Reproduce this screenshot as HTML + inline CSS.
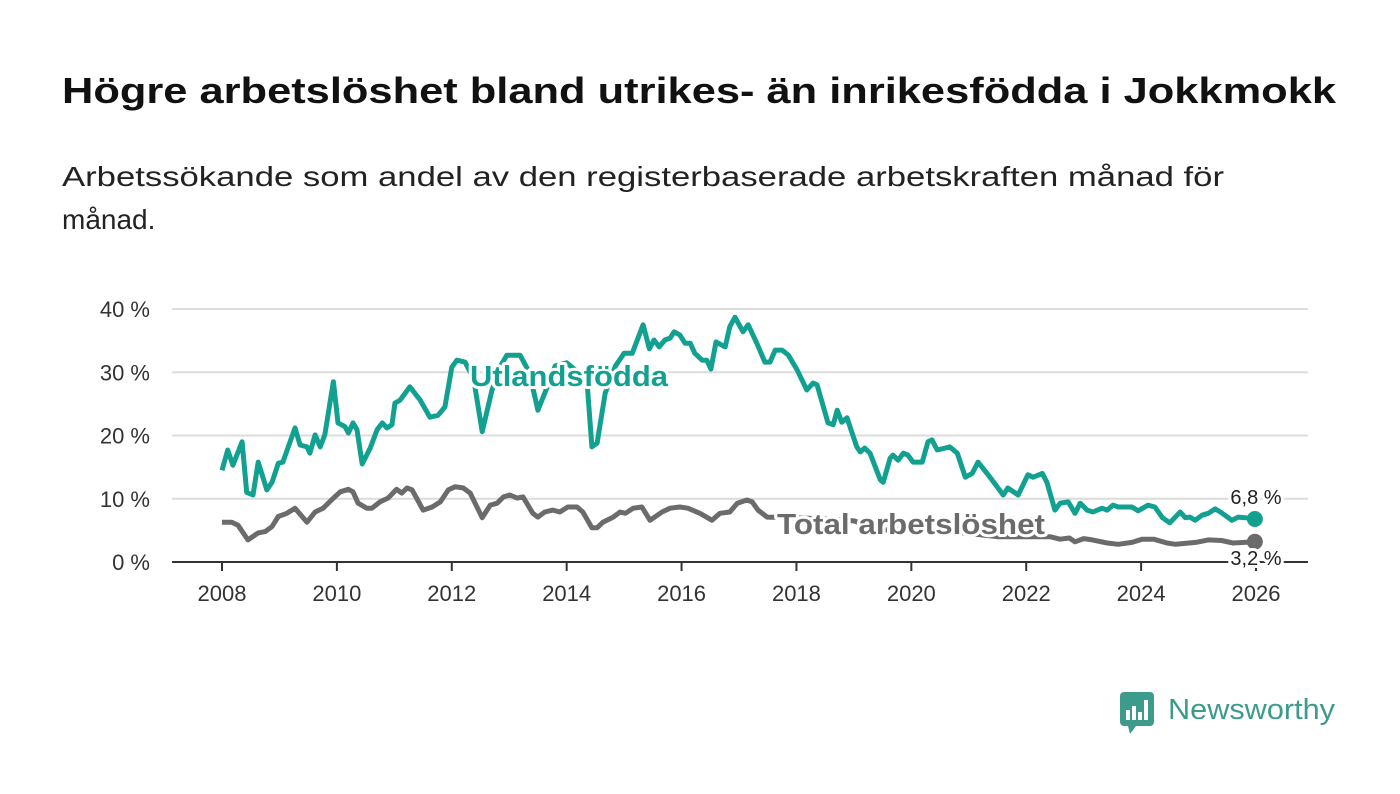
<!DOCTYPE html>
<html><head><meta charset="utf-8"><style>
html,body{margin:0;padding:0;background:#fff;}
svg{display:block;font-family:"Liberation Sans",sans-serif;}
</style></head><body>
<svg id="chart" width="1400" height="794" viewBox="0 0 1400 794">
<text x="62" y="103" font-size="36" font-weight="bold" fill="#111" textLength="1274" lengthAdjust="spacingAndGlyphs">Högre arbetslöshet bland utrikes- än inrikesfödda i Jokkmokk</text>
<text x="62" y="186" font-size="28" fill="#222" textLength="1162" lengthAdjust="spacingAndGlyphs">Arbetssökande som andel av den registerbaserade arbetskraften månad för</text>
<text x="62" y="229" font-size="28" fill="#222">månad.</text>
<g id="grid"></g>
<g id="xaxis"></g>
<g id="series"></g>
<g id="labels"></g>
<g>
<rect x="1120" y="692" width="34" height="34" rx="4" fill="#3d9b8c"/>
<polygon points="1128,726 1136,726 1130,734" fill="#3d9b8c"/>
<rect x="1126" y="710" width="4" height="10" fill="#fff"/><rect x="1132" y="706" width="4" height="14" fill="#fff"/><rect x="1138" y="712" width="4" height="8" fill="#fff"/><rect x="1144" y="700" width="4" height="20" fill="#fff"/>
<text x="1168" y="719" font-size="29" fill="#3d9b8c" textLength="167" lengthAdjust="spacingAndGlyphs">Newsworthy</text>
</g>
</svg>
<script>
const yTicks=[0,10,20,30,40];
const yTickLabels=["0 %","10 %","20 %","30 %","40 %"];
const xTicks=[2008,2010,2012,2014,2016,2018,2020,2022,2024,2026];
const utlDates=[2008.0,2008.1,2008.19,2008.35,2008.43,2008.54,2008.63,2008.78,2008.87,2008.98,2009.06,2009.27,2009.36,2009.48,2009.53,2009.62,2009.71,2009.79,2009.94,2010.02,2010.14,2010.2,2010.28,2010.35,2010.44,2010.58,2010.7,2010.79,2010.87,2010.96,2011.01,2011.1,2011.27,2011.45,2011.62,2011.76,2011.88,2012.0,2012.09,2012.23,2012.38,2012.53,2012.7,2012.85,2012.96,2013.19,2013.35,2013.5,2013.62,2013.8,2014.0,2014.2,2014.35,2014.44,2014.53,2014.67,2014.85,2015.0,2015.14,2015.33,2015.44,2015.52,2015.61,2015.71,2015.8,2015.87,2015.97,2016.06,2016.15,2016.23,2016.36,2016.44,2016.51,2016.6,2016.76,2016.84,2016.93,2017.07,2017.16,2017.31,2017.45,2017.54,2017.63,2017.75,2017.86,2018.01,2018.18,2018.29,2018.36,2018.55,2018.64,2018.71,2018.79,2018.88,2019.05,2019.11,2019.19,2019.28,2019.46,2019.51,2019.63,2019.68,2019.77,2019.86,2019.94,2020.03,2020.19,2020.29,2020.36,2020.45,2020.67,2020.8,2020.94,2021.06,2021.16,2021.37,2021.6,2021.68,2021.86,2022.03,2022.12,2022.28,2022.36,2022.5,2022.59,2022.73,2022.85,2022.94,2023.06,2023.16,2023.32,2023.41,2023.51,2023.6,2023.84,2023.95,2024.12,2024.24,2024.37,2024.5,2024.68,2024.77,2024.85,2024.94,2025.06,2025.17,2025.29,2025.38,2025.58,2025.69,2025.81,2025.98];
const utlValues=[14.5,17.7,15.3,19,11,10.6,15.8,11.4,12.6,15.6,15.8,21.2,18.5,18.2,17.2,20.1,18.2,20.1,28.5,22,21.4,20.4,22,20.9,15.5,18,20.9,22,21.2,21.7,25.1,25.6,27.7,25.6,22.9,23.2,24.5,30.8,31.9,31.6,29,20.6,27.2,31,32.7,32.7,30,24,26.7,31,31.5,30,29,18.2,18.8,26.7,31,33,33,37.5,33.7,35.1,34,35.1,35.4,36.4,35.9,34.6,34.6,33,31.9,31.9,30.5,34.8,34,37.2,38.7,36.4,37.5,34.6,31.6,31.6,33.5,33.5,32.7,30.4,27.2,28.3,28,22,21.7,24,22.1,22.8,18.2,17.4,18,17.2,13,12.6,16.4,16.9,16.1,17.2,16.9,15.8,15.8,19,19.3,17.7,18.2,17.2,13.4,14,15.8,13.4,10.6,11.7,10.6,13.8,13.4,14,12.6,8.2,9.3,9.5,7.7,9.3,8.2,7.9,8.5,8.2,9,8.7,8.7,8.1,9,8.7,7,6.2,7.9,7,7.1,6.6,7.4,7.7,8.4,7.9,6.6,7.1,7,6.8];
const totDates=[2008.0,2008.17,2008.28,2008.45,2008.63,2008.75,2008.87,2008.98,2009.13,2009.27,2009.48,2009.62,2009.76,2009.94,2010.06,2010.2,2010.28,2010.37,2010.52,2010.61,2010.75,2010.89,2011.04,2011.13,2011.22,2011.31,2011.5,2011.66,2011.8,2011.94,2012.06,2012.2,2012.32,2012.53,2012.67,2012.79,2012.9,2013.01,2013.14,2013.24,2013.41,2013.5,2013.62,2013.76,2013.88,2014.02,2014.18,2014.28,2014.44,2014.53,2014.63,2014.81,2014.93,2015.02,2015.16,2015.31,2015.45,2015.66,2015.8,2015.97,2016.11,2016.32,2016.53,2016.67,2016.84,2016.97,2017.14,2017.23,2017.33,2017.49,2018.0,2018.5,2019.0,2019.5,2020.0,2020.5,2021.0,2021.5,2022.0,2022.41,2022.59,2022.75,2022.85,2023.0,2023.15,2023.41,2023.6,2023.84,2024.02,2024.22,2024.45,2024.6,2024.95,2025.17,2025.4,2025.6,2025.8,2025.98];
const totValues=[6.3,6.3,5.8,3.5,4.6,4.8,5.6,7.2,7.7,8.5,6.3,7.9,8.5,10.1,11.1,11.5,11.1,9.3,8.5,8.5,9.5,10.1,11.5,10.9,11.7,11.4,8.2,8.7,9.5,11.4,11.9,11.7,10.9,7,9,9.3,10.3,10.6,10.1,10.3,7.7,7.1,7.9,8.2,7.9,8.7,8.7,7.9,5.4,5.4,6.3,7.1,7.9,7.7,8.5,8.7,6.6,7.9,8.5,8.7,8.5,7.7,6.6,7.7,7.9,9.3,9.8,9.5,8.2,7.1,7,6.8,6.5,5,5.5,5,4.5,4,4,4,3.6,3.8,3.2,3.7,3.5,3,2.8,3.1,3.6,3.6,3,2.8,3.1,3.5,3.4,3,3.1,3.2];
const lastLabels=["6,8 %","3,2 %"];

const NS="http://www.w3.org/2000/svg";
const X=d=>222+(d-2008)*(1256-222)/18;
const Y=v=>562-v*(562-309)/40;
function mk(tag,attrs,parent){const e=document.createElementNS(NS,tag);for(const k in attrs)e.setAttribute(k,attrs[k]);parent.appendChild(e);return e;}
const grid=document.getElementById('grid'),xa=document.getElementById('xaxis'),ser=document.getElementById('series'),lab=document.getElementById('labels');
yTicks.forEach((t,i)=>{
  if(t>0){const l=mk('line',{x1:172,x2:1308,y1:Y(t),y2:Y(t),stroke:'#dcdcdc','stroke-width':2},grid);
  
  }
  const tx=mk('text',{x:150,y:Y(t)+8,'font-size':22,fill:'#333','text-anchor':'end'},grid);
  tx.textContent=yTickLabels[i];
  
  
});
const ax=mk('line',{x1:172,x2:1308,y1:Y(0),y2:Y(0),stroke:'#333','stroke-width':2},xa);


xTicks.forEach(t=>{
  mk('line',{x1:X(t),x2:X(t),y1:Y(0),y2:Y(0)+9,stroke:'#333','stroke-width':2},xa);
  const tx=mk('text',{x:X(t),y:601,'font-size':22,fill:'#333','text-anchor':'middle'},xa);
  tx.textContent=t;
  
  
});
function path(d,v){return d.map((x,i)=>(i?'L':'M')+X(x).toFixed(1)+','+Y(v[i]).toFixed(1)).join('');}
const pt=mk('path',{d:path(totDates,totValues),fill:'none',stroke:'#6b6b6d','stroke-width':5,'stroke-linejoin':'round'},ser);


const pu=mk('path',{d:path(utlDates,utlValues),fill:'none',stroke:'#12a190','stroke-width':5,'stroke-linejoin':'round'},ser);


const nU=utlValues.length-1,nT=totValues.length-1;
const du=mk('circle',{cx:X(utlDates[nU]),cy:Y(utlValues[nU]),r:8,fill:'#12a190'},ser);


const dt=mk('circle',{cx:X(totDates[nT]),cy:Y(totValues[nT]),r:8,fill:'#6b6b6d'},ser);


function halo(x,y,txt,size,fill,weight,anchor,name,len){
  const a={x:x,y:y,'font-size':size,fill:fill,'font-weight':weight,'text-anchor':anchor,stroke:'#fff','stroke-width':6,'paint-order':'stroke','stroke-linejoin':'round'};
  if(len){a.textLength=len;a.lengthAdjust='spacingAndGlyphs';}
  const t=mk('text',a,lab);
  t.textContent=txt;
  
  
}
halo(470,386,'Utlandsfödda',29,'#12a190','bold','start','utlandsfodda-label',198);
halo(777,534,'Total arbetslöshet',29,'#6b6b6d','bold','start','total-label',268);
halo(1256,504,lastLabels[0],20,'#222','normal','middle','utlandsfodda-end-label');
halo(1256,565,lastLabels[1],20,'#222','normal','middle','total-end-label');
</script>
</body></html>
